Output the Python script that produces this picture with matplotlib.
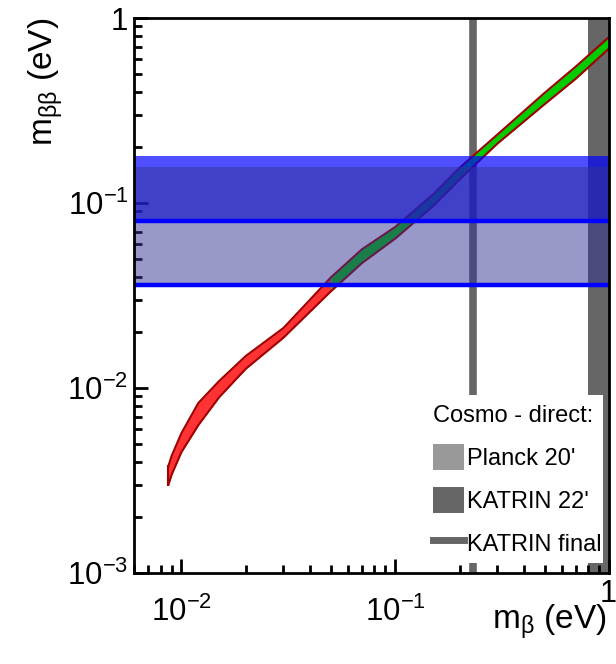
import matplotlib
matplotlib.use("Agg")
import numpy as np
import matplotlib.pyplot as plt
from matplotlib.patches import Patch, Rectangle
from matplotlib.lines import Line2D
from matplotlib.ticker import LogLocator, NullFormatter

plt.rcParams['font.family'] = ['Liberation Sans', 'DejaVu Sans']
plt.rcParams['mathtext.fontset'] = 'custom'
plt.rcParams['mathtext.rm'] = 'Liberation Sans'
plt.rcParams['mathtext.it'] = 'Liberation Sans:italic'
plt.rcParams['mathtext.bf'] = 'Liberation Sans:bold'

# allowed band (normal ordering)
m_beta = [0.0087, 0.009, 0.01, 0.012, 0.015, 0.02, 0.03, 0.05,
          0.07, 0.1, 0.15, 0.2, 0.3, 0.5, 0.7, 1.0]
m_bb_hi = [0.0038, 0.0043, 0.0057, 0.0083, 0.0109, 0.0149, 0.0211, 0.0396,
           0.0563, 0.0742, 0.111, 0.155, 0.234, 0.394, 0.547, 0.789]
m_bb_lo = [0.0030, 0.0034, 0.0045, 0.0063, 0.0089, 0.0127, 0.0187, 0.0333,
           0.0474, 0.0642, 0.096, 0.134, 0.209, 0.342, 0.470, 0.684]
m_split = 0.05

# 0vbb limits (horizontal bands / lines)
band_upper = (0.08, 0.18)
band_lower = (0.036, 0.156)
lines_0vbb = [0.08, 0.036]

# direct limits
katrin_final = 0.23
katrin_22 = (0.8, 1.0)

x_ticks = [0.01, 0.1, 1.0]
x_ticklabels = [r'$10^{-2}$', r'$10^{-1}$', '']
y_ticks = [1e-3, 1e-2, 1e-1, 1.0]
y_ticklabels = [r'$10^{-3}$', r'$10^{-2}$', r'$10^{-1}$', '1']

fig = plt.figure(figsize=(6.16, 6.64), dpi=100)
ax = fig.add_axes([134/616, 1 - 573/664, 475/616, 555/664])
ax.set_xscale('log')
ax.set_yscale('log')
ax.set_xlim(6e-3, 1.0)
ax.set_ylim(1e-3, 1.0)

mb = np.array(m_beta)
hi = np.array(m_bb_hi)
lo = np.array(m_bb_lo)
red = mb <= m_split
green = mb >= m_split

ax.axvline(katrin_final, color='#666666', lw=5.5, zorder=1)
ax.axvspan(katrin_22[0], katrin_22[1], color='#666666', lw=0, zorder=1)

ax.fill_between(mb[red], lo[red], hi[red], color='#ff3333', lw=0, zorder=2)
ax.fill_between(mb[green], lo[green], hi[green], color='#00cc00', lw=0, zorder=2)
ax.plot(mb, hi, color='#a00000', lw=1.5, zorder=2.5)
ax.plot(mb, lo, color='#a00000', lw=1.5, zorder=2.5)
ax.plot([mb[0], mb[0]], [lo[0], hi[0]], color='#a00000', lw=1.5, zorder=2.5)

ax.axhspan(band_upper[0], band_upper[1], color='#0000ff', alpha=0.69, lw=0, zorder=3)
ax.axhspan(band_lower[0], band_lower[1], color='#323294', alpha=0.5, lw=0, zorder=3.1)
for v in lines_0vbb:
    ax.axhline(v, color='#0000ff', lw=3.2, zorder=4)

ax.set_xticks(x_ticks)
ax.set_xticklabels(x_ticklabels)
ax.set_yticks(y_ticks)
ax.set_yticklabels(y_ticklabels)
ax.xaxis.set_minor_locator(LogLocator(base=10, subs=np.arange(2, 10)))
ax.yaxis.set_minor_locator(LogLocator(base=10, subs=np.arange(2, 10)))
ax.xaxis.set_minor_formatter(NullFormatter())
ax.yaxis.set_minor_formatter(NullFormatter())
ax.tick_params(which='both', direction='in', top=False, right=False,
               width=2, labelsize=22.5)
ax.tick_params(which='major', length=10)
ax.tick_params(which='minor', length=5.5)
ax.tick_params(axis='x', which='major', pad=17)
ax.tick_params(axis='y', which='major', pad=4)
for s in ax.spines.values():
    s.set_linewidth(2)
    s.set_zorder(6)

# the "1" label at the right end sits higher, as in the original
ax.text(0.992, -0.011, '1', transform=ax.get_xaxis_transform(),
        ha='center', va='top', fontsize=22, clip_on=False)

ax.set_xlabel(r'm$_\mathrm{β}$ (eV)', fontsize=24, loc='right')
ax.xaxis.set_label_coords(0.995, -0.054)
ax.set_ylabel(r'm$_\mathrm{ββ}$ (eV)', fontsize=24, loc='top')
ax.yaxis.set_label_coords(-0.145, 1.0)

# white legend background
ax.add_patch(Rectangle((0.613, 0.018), 0.374, 0.303, transform=ax.transAxes,
                       facecolor='white', edgecolor='none', zorder=4.5))

handles = [Patch(facecolor='#999999', edgecolor='none'),
           Patch(facecolor='#666666', edgecolor='none'),
           Line2D([], [], color='#666666', lw=5)]
labels = ["Planck 20'", "KATRIN 22'", "KATRIN final"]
leg = ax.legend(handles, labels, title='Cosmo - direct:', loc='upper left',
                bbox_to_anchor=(0.597, 0.330), borderaxespad=0,
                fontsize=17, title_fontsize=17, alignment='left',
                frameon=False,
                handlelength=1.3, handleheight=1.3, handletextpad=0.15,
                labelspacing=0.72, borderpad=0.65)
leg.set_zorder(5)

fig.savefig('out.png', dpi=100)
